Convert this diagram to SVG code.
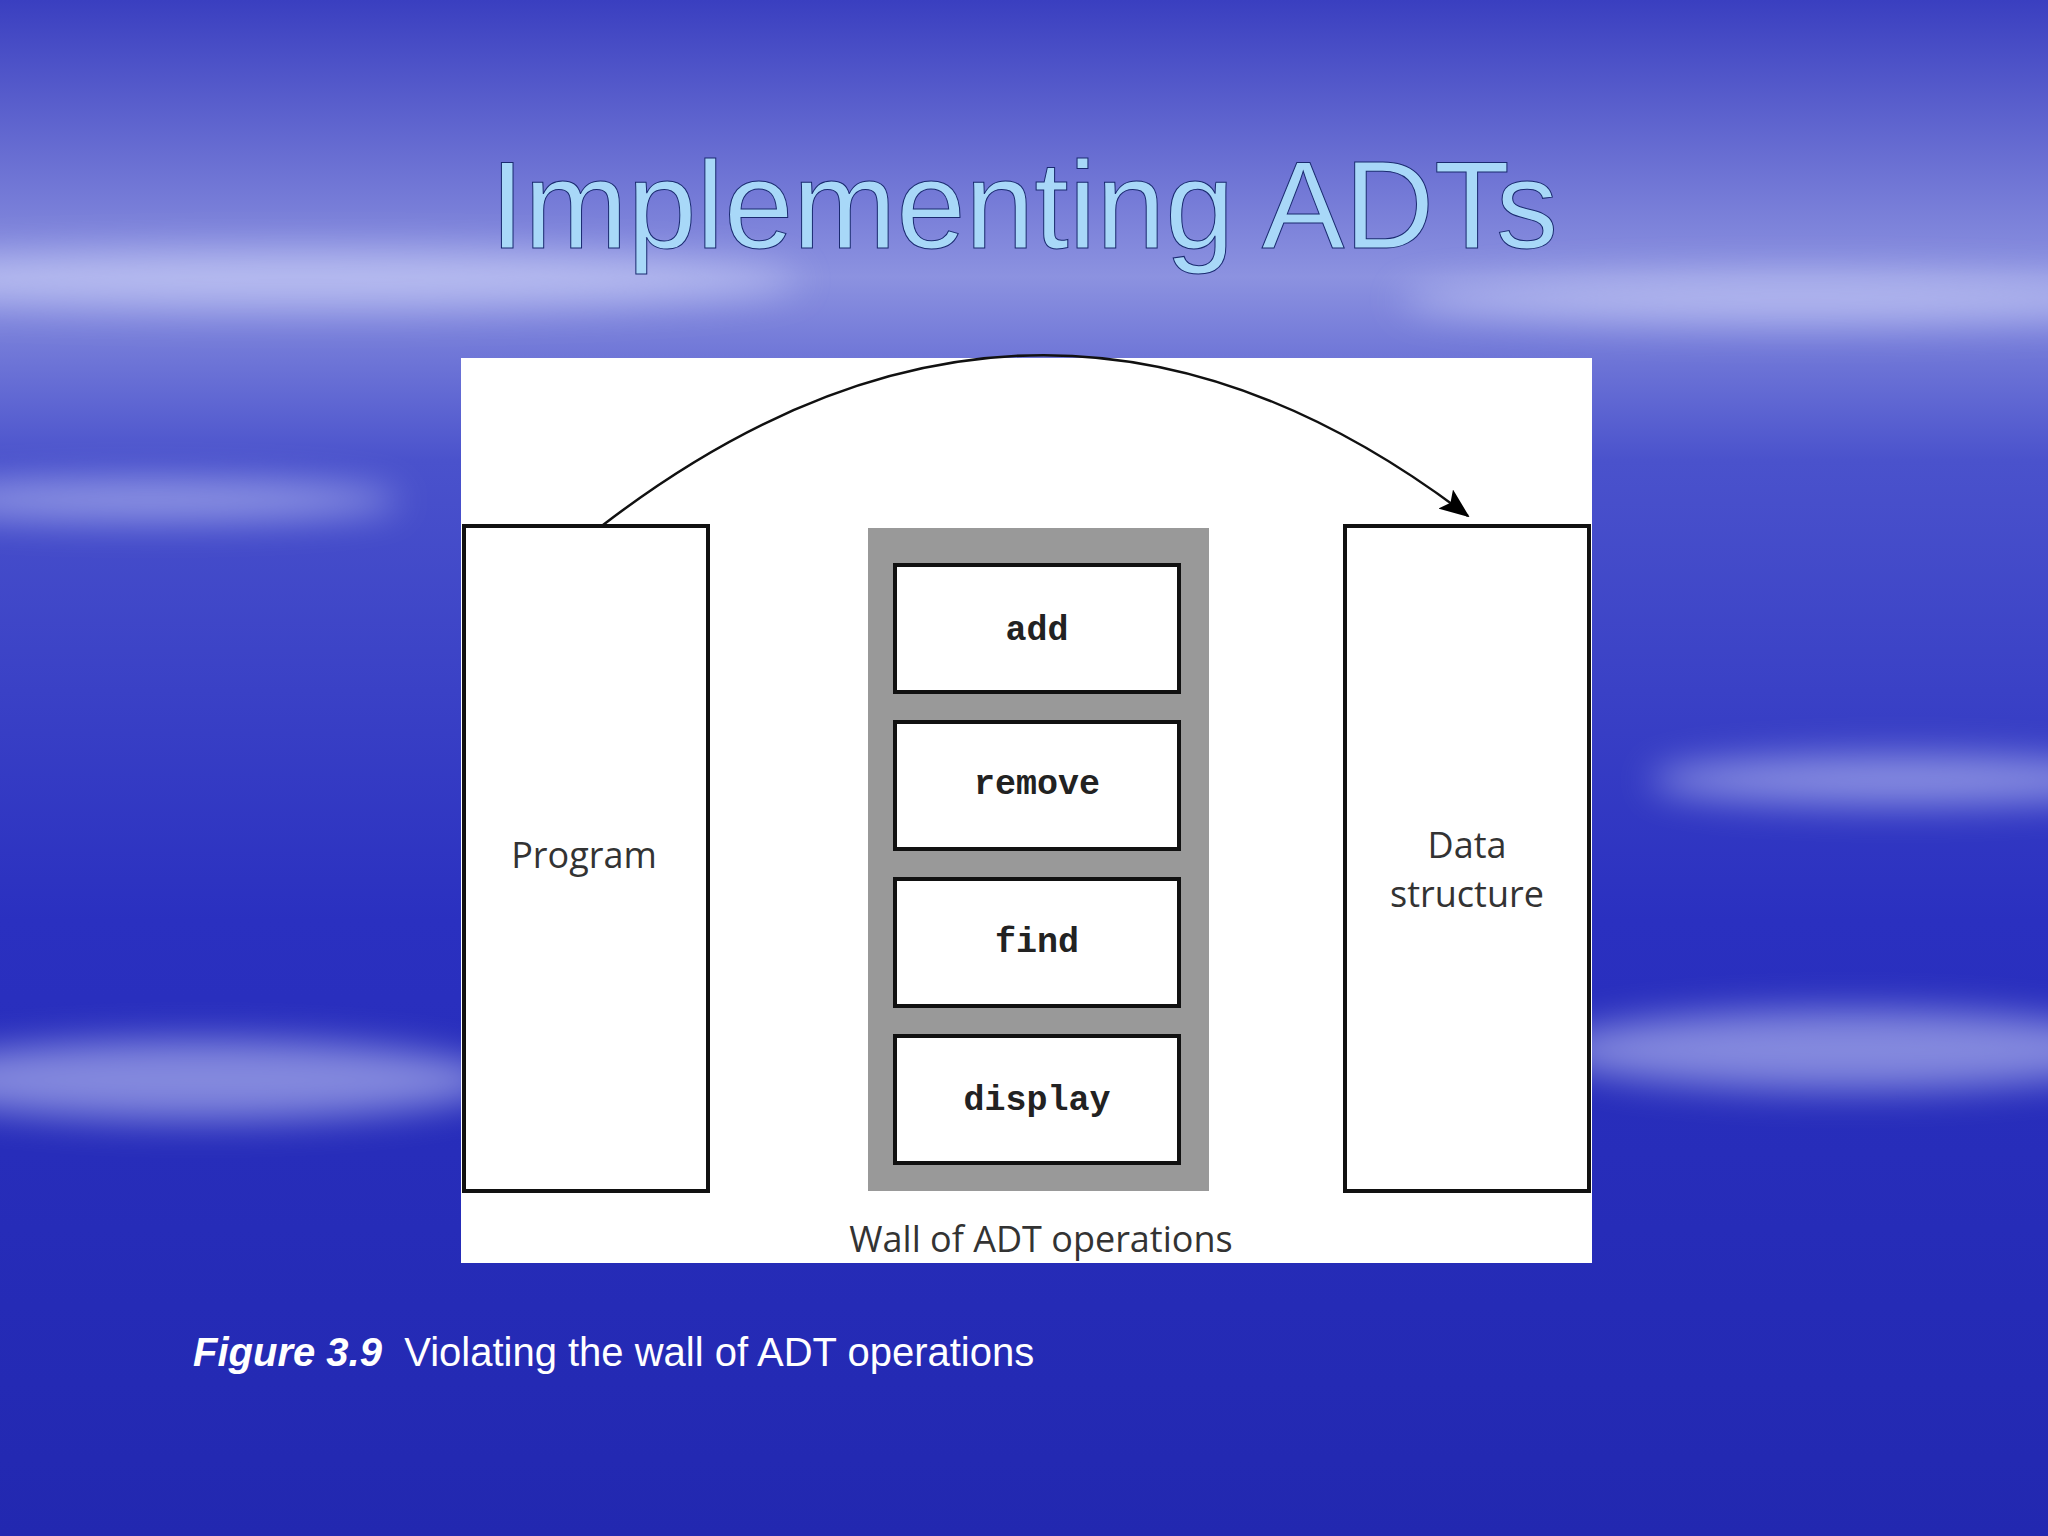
<svg xmlns="http://www.w3.org/2000/svg" width="2048" height="1536" viewBox="0 0 2048 1536">
<defs>
<linearGradient id="bg" x1="0" y1="0" x2="0" y2="1">
<stop offset="0" stop-color="#3a3fc0"/><stop offset="0.18" stop-color="#8c92e0"/><stop offset="0.3" stop-color="#4a52cc"/><stop offset="0.6" stop-color="#2a30c0"/><stop offset="1" stop-color="#2228b0"/>
</linearGradient>
<filter id="blur"><feGaussianBlur stdDeviation="18"/></filter>
<marker id="ah" markerWidth="30" markerHeight="24" refX="28" refY="12" orient="auto" markerUnits="userSpaceOnUse" viewBox="0 0 30 24"><path d="M0,0 L30,12 L0,24 L6,12 z" fill="#000"/></marker>
<style>
.box{fill:#fff;stroke:#111;stroke-width:4}
.mono{font-family:"Liberation Mono",monospace;font-weight:bold;font-size:35px;text-anchor:middle;fill:#222}
.lbl{font-family:"Open Sans","DejaVu Sans",sans-serif;font-size:36px;text-anchor:middle;fill:#333}
</style>
</defs>
<rect width="2048" height="1536" fill="url(#bg)"/>
<g filter="url(#blur)" fill="#dfe3ff" opacity="0.5">
<ellipse cx="300" cy="280" rx="500" ry="30"/><ellipse cx="1800" cy="300" rx="400" ry="25"/>
<ellipse cx="200" cy="1080" rx="300" ry="40"/><ellipse cx="1850" cy="1050" rx="300" ry="40"/>
<ellipse cx="1900" cy="780" rx="250" ry="25"/><ellipse cx="150" cy="500" rx="250" ry="20"/>
</g>
<text x="1024" y="248" font-family="Liberation Sans, Arial, sans-serif" font-size="124" text-anchor="middle" fill="#a8d8f8" stroke="#1a2a70" stroke-width="1">Implementing ADTs</text>
<rect x="461" y="358" width="1131" height="905" fill="#fff"/>
<g id="program"><rect class="box" x="464" y="526" width="244" height="665"/><text class="lbl" x="584" y="868">Program</text></g>
<g id="wall"><rect x="868" y="528" width="341" height="663" fill="#999"/><text class="lbl" x="1041" y="1252">Wall of ADT operations</text></g>
<g id="add"><rect class="box" x="895" y="565" width="284" height="127"/><text class="mono" x="1037" y="640">add</text></g>
<g id="remove"><rect class="box" x="895" y="722" width="284" height="127"/><text class="mono" x="1037" y="794">remove</text></g>
<g id="find"><rect class="box" x="895" y="879" width="284" height="127"/><text class="mono" x="1037" y="952">find</text></g>
<g id="display"><rect class="box" x="895" y="1036" width="284" height="127"/><text class="mono" x="1037" y="1110">display</text></g>
<g id="data"><rect class="box" x="1345" y="526" width="244" height="665"/><text class="lbl" x="1467" y="858">Data</text><text class="lbl" x="1467" y="907">structure</text></g>
<g id="connectors"><path d="M603,525 Q1040,190 1468,516" fill="none" stroke="#111" stroke-width="2.5" marker-end="url(#ah)"/></g>
<text x="193" y="1366" font-family="Liberation Sans, Arial, sans-serif" font-size="40" fill="#fff" xml:space="preserve"><tspan font-weight="bold" font-style="italic">Figure 3.9</tspan>  Violating the wall of ADT operations</text>
</svg>
